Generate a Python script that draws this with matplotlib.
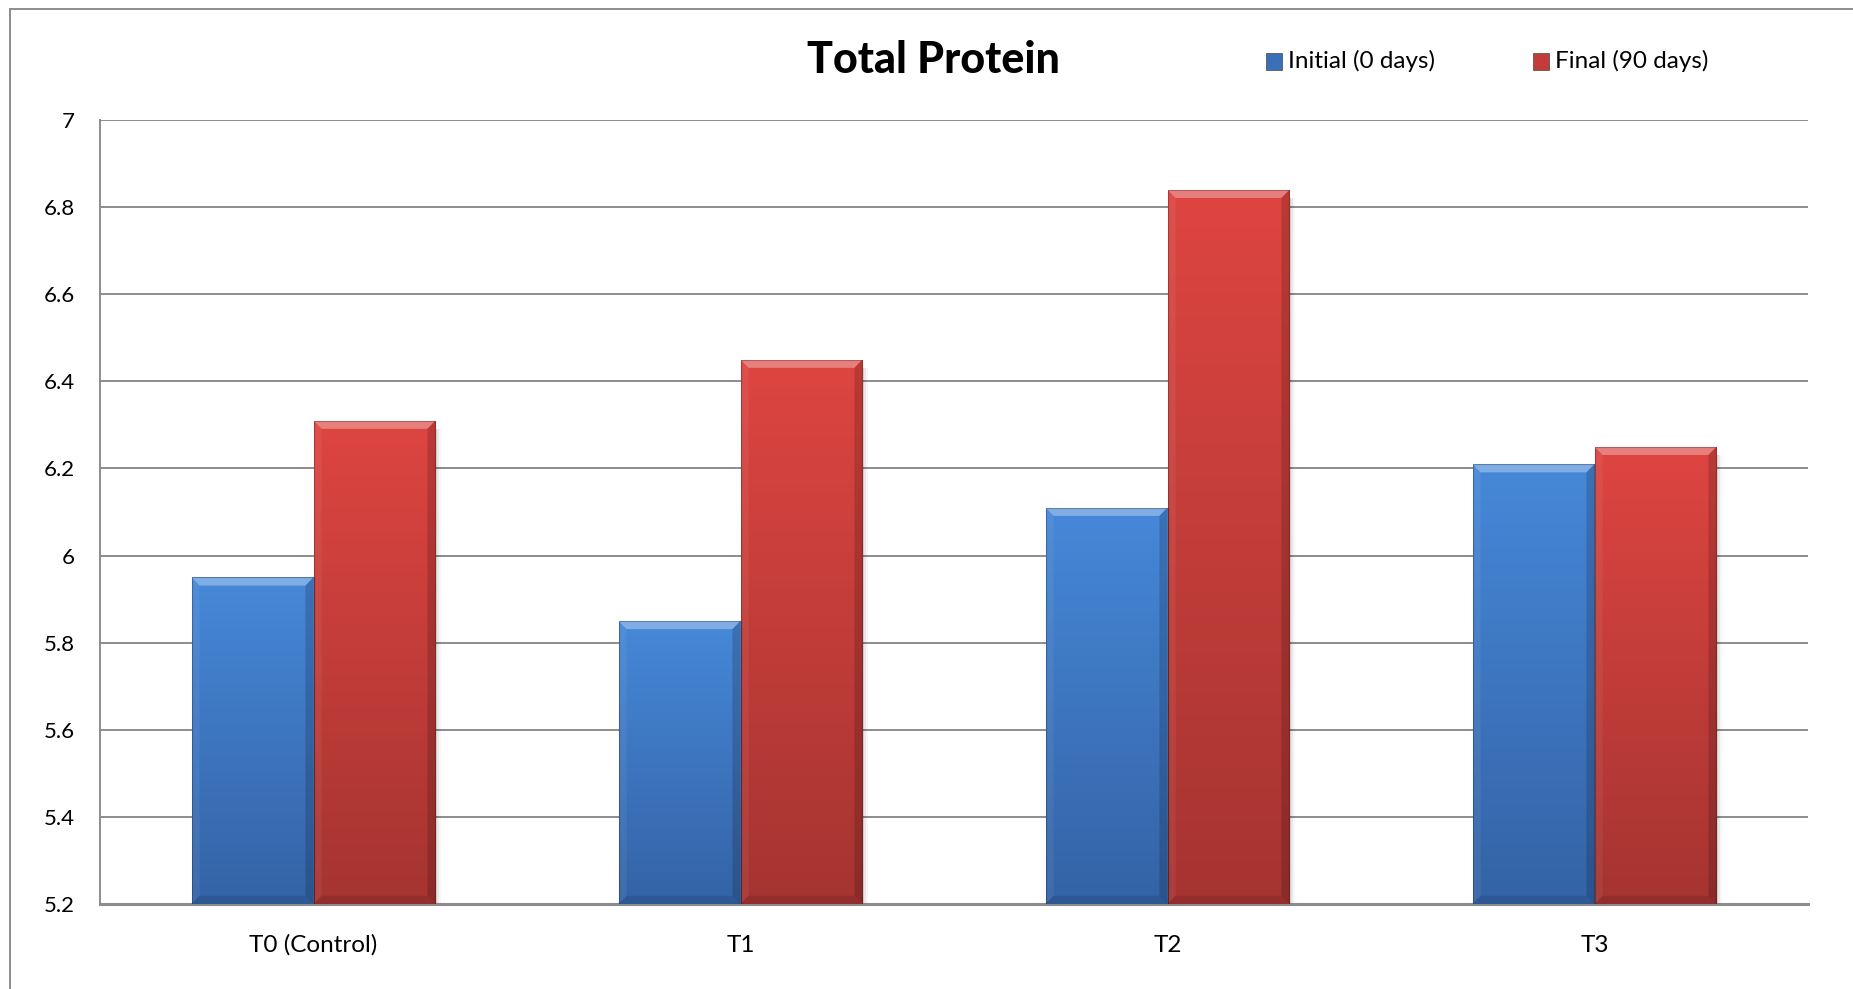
import numpy as np
import matplotlib
matplotlib.use("Agg")
import matplotlib.pyplot as plt
from matplotlib.patches import Rectangle, Polygon
from matplotlib.colors import LinearSegmentedColormap

plt.rcParams['font.family'] = ['Lato', 'DejaVu Sans']

groups = ['T0 (Control)', 'T1', 'T2', 'T3']
initial = [5.95, 5.85, 6.11, 6.21]
final = [6.31, 6.45, 6.84, 6.25]
series_names = ['Initial (0 days)', 'Final (90 days)']
y_ticks = [5.2, 5.4, 5.6, 5.8, 6.0, 6.2, 6.4, 6.6, 6.8, 7.0]
y_labels = ['5.2', '5.4', '5.6', '5.8', '6', '6.2', '6.4', '6.6', '6.8', '7']

blue = LinearSegmentedColormap.from_list('b', ['#3463a6', '#4688d8'])
red = LinearSegmentedColormap.from_list('r', ['#a53431', '#de4541'])

W, H = 1853, 989
fig = plt.figure(figsize=(W / 100, H / 100), dpi=100)
ax = fig.add_axes([100 / W, 1 - 904 / H, 1708 / W, 784 / H])

ymin, ymax = 5.2, 7.0
bw = 0.2857
x = np.arange(len(groups))

grad = np.linspace(0, 1, 256).reshape(-1, 1)


def bevel_bar(xc, top, cmap):
    x0, x1 = xc - bw / 2, xc + bw / 2
    rect = Rectangle((x0, ymin), bw, top - ymin, facecolor='none',
                     edgecolor='none', zorder=3)
    ax.add_patch(rect)
    im = ax.imshow(grad, extent=[x0, x1, ymin, top], origin='lower',
                   cmap=cmap, aspect='auto', zorder=3, interpolation='bilinear')
    im.set_clip_path(rect)
    dx = 0.019
    dy = 0.019
    # soft shadow on the right
    for i, a in enumerate([0.10, 0.06, 0.03]):
        ax.add_patch(Rectangle((x1, ymin), 0.004 * (i + 1), top - ymin - dy,
                               facecolor='black', alpha=a, edgecolor='none',
                               zorder=2))
    # bevel faces
    faces = [
        ([(x0, top), (x1, top), (x1 - dx, top - dy), (x0 + dx, top - dy)], 'white', 0.32),
        ([(x0, top), (x0 + dx, top - dy), (x0 + dx, ymin + dy), (x0, ymin)], 'white', 0.06),
        ([(x1, top), (x1 - dx, top - dy), (x1 - dx, ymin + dy), (x1, ymin)], 'black', 0.16),
        ([(x0, ymin), (x0 + dx, ymin + dy), (x1 - dx, ymin + dy), (x1, ymin)], 'black', 0.10),
    ]
    for pts, c, a in faces:
        ax.add_patch(Polygon(pts, closed=True, facecolor=c, alpha=a,
                             edgecolor='none', zorder=4))
    ax.add_patch(Rectangle((x0, ymin), bw, top - ymin, facecolor='none',
                           edgecolor='black', alpha=0.25, lw=0.8, zorder=5))


for i in range(len(groups)):
    bevel_bar(x[i] - bw / 2, initial[i], blue)
    bevel_bar(x[i] + bw / 2, final[i], red)

ax.set_xlim(-0.5, len(groups) - 0.5)
ax.set_ylim(ymin, ymax)
ax.set_yticks(y_ticks)
ax.set_yticklabels(y_labels)
ax.set_xticks(x)
ax.set_xticklabels(groups)
ax.tick_params(axis='both', length=0)
ax.tick_params(axis='y', pad=18, labelsize=16)
ax.tick_params(axis='x', pad=22, labelsize=17.5)
ax.grid(axis='y', color='#8c8c8c', lw=1.4, zorder=1)
ax.set_axisbelow(True)
for s in ['top', 'right']:
    ax.spines[s].set_visible(False)
ax.spines['left'].set_color('#8c8c8c')
ax.spines['left'].set_linewidth(1.4)
ax.spines['bottom'].set_color('#8c8c8c')
ax.spines['bottom'].set_linewidth(2.2)

# title and legend
fig.text(933 / W, 1 - 60 / H, 'Total Protein', ha='center', va='center',
         fontsize=31, fontweight='black')
leg = [(1266, '#3a70b8', series_names[0]), (1533, '#c23c39', series_names[1])]
for px, col, name in leg:
    fig.add_artist(Rectangle((px / W, 1 - 70 / H), 16 / W, 17 / H,
                             transform=fig.transFigure, facecolor=col,
                             edgecolor='#444444', lw=0.5))
    fig.text((px + 22) / W, 1 - 61 / H, name, ha='left', va='center',
             fontsize=17.5)

# chart border
fig.add_artist(Rectangle((10 / W, -0.1), 1.2, 1 - 9 / H + 0.1,
                         transform=fig.transFigure, facecolor='none',
                         edgecolor='#8c8c8c', lw=1.4))

fig.savefig('out.png', dpi=100)
